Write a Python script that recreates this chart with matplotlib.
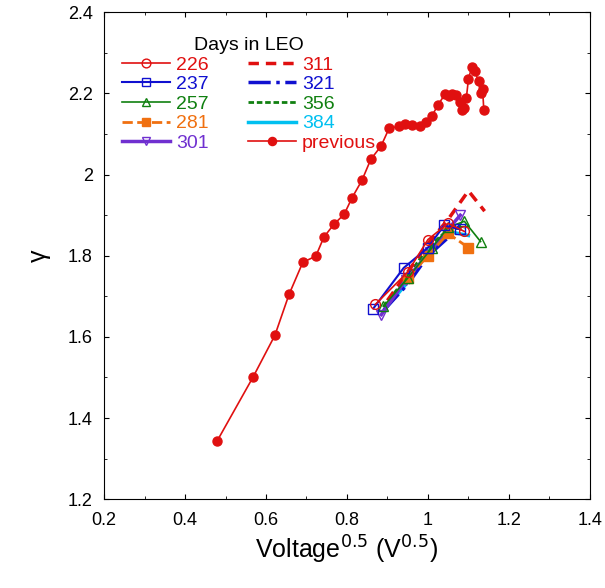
import matplotlib
matplotlib.use("Agg")
import matplotlib.pyplot as plt

plt.rcParams["font.family"] = ["Liberation Sans", "DejaVu Sans"]

prev_x = [0.479, 0.568, 0.622, 0.657, 0.691, 0.723, 0.743, 0.768, 0.793, 0.812, 0.837, 0.859,
          0.884, 0.904, 0.928, 0.943, 0.960, 0.980, 0.995, 1.010, 1.025, 1.042, 1.052,
          1.060, 1.070, 1.080, 1.085, 1.090, 1.095, 1.100, 1.108, 1.116, 1.125, 1.130,
          1.135, 1.138]
prev_y = [1.343, 1.501, 1.604, 1.705, 1.784, 1.799, 1.846, 1.878, 1.902, 1.942, 1.986, 2.038,
          2.070, 2.114, 2.119, 2.124, 2.122, 2.119, 2.130, 2.145, 2.172, 2.198, 2.193,
          2.198, 2.196, 2.18, 2.160, 2.165, 2.19, 2.235, 2.265, 2.255, 2.23, 2.20, 2.21, 2.16]

series = {
    "226": ([0.87, 0.95, 1.00, 1.05, 1.09], [1.68, 1.76, 1.84, 1.88, 1.86]),
    "237": ([0.865, 0.94, 1.00, 1.04, 1.08], [1.67, 1.77, 1.82, 1.875, 1.865]),
    "257": ([0.89, 0.95, 1.01, 1.05, 1.09, 1.13], [1.675, 1.745, 1.82, 1.87, 1.885, 1.835]),
    "281": ([0.95, 1.00, 1.05, 1.10], [1.745, 1.80, 1.855, 1.82]),
    "301": ([0.885, 0.945, 1.005, 1.045, 1.08], [1.655, 1.74, 1.81, 1.86, 1.90]),
    "311": ([0.90, 0.95, 1.00, 1.05, 1.10, 1.14], [1.69, 1.76, 1.83, 1.89, 1.96, 1.91]),
    "321": ([0.89, 0.95, 1.00, 1.05, 1.08], [1.665, 1.73, 1.80, 1.845, 1.875]),
    "356": ([0.89, 0.95, 1.00, 1.05, 1.09], [1.675, 1.75, 1.82, 1.865, 1.87]),
    "384": ([0.895, 0.95, 1.00, 1.05, 1.10], [1.67, 1.735, 1.81, 1.86, 1.85]),
}
styles = {
    "226": dict(color="#e01010", ls="-", marker="o", mfc="none", lw=1.2),
    "237": dict(color="#1010d0", ls="-", marker="s", mfc="none", lw=1.5),
    "257": dict(color="#108010", ls="-", marker="^", mfc="none", lw=1.2),
    "281": dict(color="#f07010", ls="--", marker="s", mfc="#f07010", lw=2),
    "301": dict(color="#7030d0", ls="-", marker="v", mfc="none", lw=2.5),
    "311": dict(color="#e01010", ls=(0, (3, 2)), lw=2.5),
    "321": dict(color="#1010d0", ls="-.", lw=2.5),
    "356": dict(color="#108010", ls=(0, (2, 1)), lw=2),
    "384": dict(color="#00c0f0", ls="-", lw=2.5),
}

fig = plt.figure(figsize=(6.05, 5.88), dpi=100)
ax = fig.add_axes([0.172, 0.151, 0.803, 0.828])
handles = {}
for k in ["384", "356", "321", "311", "301", "281", "257", "237", "226"]:
    x, y = series[k]
    h, = ax.plot(x, y, ms=7, label=k, **styles[k])
    handles[k] = h
hp, = ax.plot(prev_x, prev_y, color="#e01010", marker="o", ms=6.5, lw=1.2, label="previous")
handles["previous"] = hp

ax.set_xlim(0.2, 1.4)
ax.set_ylim(1.2, 2.4)
ax.set_xticks([0.2, 0.4, 0.6, 0.8, 1.0, 1.2, 1.4])
ax.set_xticklabels(["0.2", "0.4", "0.6", "0.8", "1", "1.2", "1.4"])
ax.set_yticks([1.2, 1.4, 1.6, 1.8, 2.0, 2.2, 2.4])
ax.set_yticklabels(["1.2", "1.4", "1.6", "1.8", "2", "2.2", "2.4"])
ax.xaxis.set_minor_locator(plt.MultipleLocator(0.1))
ax.yaxis.set_minor_locator(plt.MultipleLocator(0.1))
ax.tick_params(which="both", direction="in", top=True, right=True, labelsize=13)
ax.tick_params(axis="x", pad=9)
ax.tick_params(axis="y", pad=8)
ax.set_xlabel("Voltage$^{0.5}$ (V$^{0.5}$)", fontsize=18)
ax.set_ylabel("γ", fontsize=18, labelpad=12)

order = ["226", "237", "257", "281", "301", "311", "321", "356", "384", "previous"]
leg = ax.legend([handles[k] for k in order], order, ncol=2, loc="upper left",
                bbox_to_anchor=(0.0, 0.985), frameon=False, title="Days in LEO",
                fontsize=14, title_fontsize=14, handlelength=2.5, labelspacing=0.1,
                columnspacing=2.0, handletextpad=0.3, numpoints=1, markerscale=0.9)
for t, k in zip(leg.get_texts(), order):
    t.set_color(styles[k]["color"] if k in styles else "#e01010")

fig.savefig("out.png")
